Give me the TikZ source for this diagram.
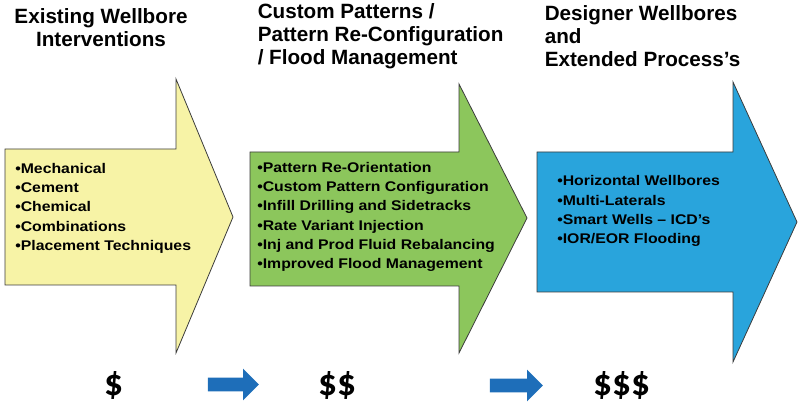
\documentclass[tikz,border=0pt]{standalone}
\usepackage{fontspec}
\setmainfont{Liberation Sans}
\newfontfamily\itemfont[FakeStretch=1.13]{Liberation Sans}
\newfontfamily\costfont{Carlito}
\usetikzlibrary{positioning,shapes.arrows}

\definecolor{wellyellow}{RGB}{247,243,166}
\definecolor{wellgreen}{RGB}{140,198,92}
\definecolor{wellblue}{RGB}{41,164,220}
\definecolor{stepblue}{RGB}{30,110,185}
\definecolor{rim}{RGB}{60,60,60}

\begin{document}
\begin{tikzpicture}[x=0.75pt, y=-0.75pt,
    stage/.style={draw=rim, line width=0.6pt},
    heading/.style={font=\bfseries\fontsize{15.5}{17.5}\selectfont, inner sep=0pt},
    items/.style={font=\itemfont\bfseries\fontsize{10.5}{14.4}\selectfont, align=left, anchor=north west, inner sep=0pt},
    cost/.style={font=\costfont\bfseries\fontsize{28}{28}\selectfont, inner sep=0pt},
    stepper/.style={single arrow, fill=stepblue, inner xsep=0pt, inner ysep=4.875pt, minimum width=23.25pt,
          single arrow head extend=6.75pt}]

    \useasboundingbox (0,0) rectangle (800,409);

    % three stage arrows
    \draw[stage, fill=wellyellow] (5,149) -- (176,149) -- (176,79) -- (233,217) -- (176,353) -- (176,285) -- (5,285) -- cycle;
    \draw[stage, fill=wellgreen] (250,152) -- (459,152) -- (459,84) -- (527,218) -- (459,353) -- (459,286) -- (250,286) -- cycle;
    \draw[stage, fill=wellblue] (537,152) -- (733,152) -- (733,82) -- (797,222) -- (733,362) -- (733,292) -- (537,292) -- cycle;

    \node[heading, align=center, anchor=north] (T1) at (101,8) {Existing Wellbore\\Interventions};
    \node[heading, align=left, anchor=north west] (T2) at (257.5,3) {Custom Patterns /\\Pattern Re-Configuration\\/ Flood Management};
    \node[heading, align=left, anchor=north west] (T3) at (544.5,5) {Designer Wellbores\\and\\Extended Process’s};

    \node[items] (L1) at (15,163) {•Mechanical\\•Cement\\•Chemical\\•Combinations\\•Placement Techniques};
    \node[items] (L2) at (257,162) {•Pattern Re-Orientation\\•Custom Pattern Configuration\\•Infill Drilling and Sidetracks\\•Rate Variant Injection\\•Inj and Prod Fluid Rebalancing\\•Improved Flood Management};
    \node[items] (L3) at (557,175.5) {•Horizontal Wellbores\\•Multi-Laterals\\•Smart Wells – ICD’s\\•IOR/EOR Flooding};

    \node[cost] (C1) at (114,385) {\$};
    \node[cost] (C2) at (337,385) {\$\$};
    \node[cost] (C3) at (622,385) {\$\$\$};

    % small arrows between the costs
    \node[stepper, minimum height=38.25pt] (S1) at (230,384.5) {};
    \node[stepper, minimum height=39.75pt] (S2) at (513,385.5) {};

\end{tikzpicture}
\end{document}
